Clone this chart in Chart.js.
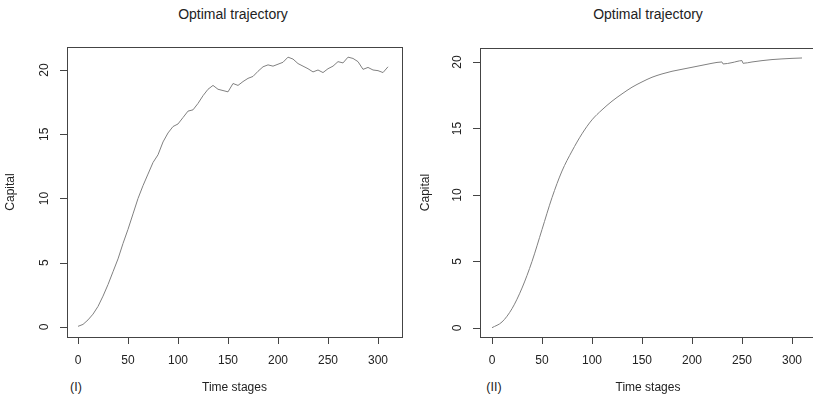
<!DOCTYPE html>
<html>
<head>
<meta charset="utf-8">
<script src="https://cdn.jsdelivr.net/npm/chart.js@4/dist/chart.umd.min.js"></script>
<style>
  html, body { margin: 0; padding: 0; background: #fff; overflow: hidden; width: 813px; height: 399px; }
  body { position: relative; font-family: "Liberation Sans", Arial, sans-serif; color: #222; }
  canvas { position: absolute; top: 0; }
  .titulo { position: absolute; top: 6px; font-size: 14px; color: #222; transform: translateX(-50%); white-space: nowrap; }
  .painel { position: absolute; top: 380px; font-size: 12.5px; color: #222; transform: translateX(-50%); }
</style>
</head>
<body>
<div class="titulo" style="left:233px">Optimal trajectory</div>
<div class="titulo" style="left:648px">Optimal trajectory</div>
<div class="painel" style="left:76px">(I)</div>
<div class="painel" style="left:494px">(II)</div>
<canvas id="graficoI" width="406" height="399" style="left:0"></canvas>
<canvas id="graficoII" width="420" height="399" style="left:406px"></canvas>
<script>
// ============================================================
//  DADOS
// ============================================================

const xTicks = [0, 50, 100, 150, 200, 250, 300];
const yTicks = [0, 5, 10, 15, 20];

// painel (I) - trajetória com ruído
const estagiosI = [0, 5, 10, 15, 20, 25, 30, 35, 40, 45, 50, 55, 60, 65, 70, 75, 80, 85, 90, 95,
    100, 105, 110, 115, 120, 125, 130, 135, 140, 145, 150, 155, 160, 165, 170, 175, 180, 185, 190, 195,
    200, 205, 210, 215, 220, 225, 230, 235, 240, 245, 250, 255, 260, 265, 270, 275, 280, 285, 290, 295,
    300, 305, 310];
const capitalI = [0.05, 0.2, 0.55, 1.0, 1.6, 2.4, 3.3, 4.3, 5.3, 6.5, 7.6, 8.8, 10.0, 11.0, 11.9, 12.8, 13.4, 14.4, 15.1, 15.6,
    15.8, 16.3, 16.8, 16.9, 17.4, 18.0, 18.5, 18.8, 18.5, 18.4, 18.3, 18.95, 18.8, 19.1, 19.35, 19.5, 19.9, 20.25, 20.4, 20.3,
    20.45, 20.6, 21.0, 20.85, 20.5, 20.3, 20.1, 19.85, 20.0, 19.8, 20.1, 20.3, 20.65, 20.55, 21.0, 20.9, 20.65, 20.05, 20.2, 20.0,
    19.95, 19.8, 20.25];

// painel (II) - trajetória suave
const estagiosII = [0, 10, 20, 30, 40, 50, 60, 70, 80, 90, 100, 110, 120, 130, 140, 150, 160, 170, 180, 190,
    200, 210, 220, 230, 231, 240, 250, 251, 260, 270, 280, 290, 300, 310];
const capitalII = [0.02, 0.45, 1.45, 3.0, 5.0, 7.4, 9.8, 11.8, 13.3, 14.6, 15.65, 16.4, 17.05, 17.6, 18.1, 18.5, 18.85, 19.1, 19.3, 19.45,
    19.6, 19.75, 19.9, 20.0, 19.85, 19.95, 20.1, 19.9, 20.0, 20.1, 20.18, 20.23, 20.27, 20.3];

// ============================================================
//  PLUGIN - moldura e marcas estilo R
// ============================================================

const molduraR = {
    id: 'molduraR',
    afterDraw(chart) {
        const { ctx, chartArea: a, scales: { x, y } } = chart;
        ctx.save();
        ctx.strokeStyle = '#444';
        ctx.lineWidth = 1;
        ctx.strokeRect(Math.round(a.left) + 0.5, Math.round(a.top) + 0.5,
            Math.round(a.right - a.left), Math.round(a.bottom - a.top));
        ctx.beginPath();
        xTicks.forEach(v => {
            const px = Math.round(x.getPixelForValue(v)) + 0.5;
            ctx.moveTo(px, a.bottom);
            ctx.lineTo(px, a.bottom + 7);
        });
        yTicks.forEach(v => {
            const py = Math.round(y.getPixelForValue(v)) + 0.5;
            ctx.moveTo(a.left, py);
            ctx.lineTo(a.left - 7, py);
        });
        ctx.stroke();
        ctx.restore();
    }
};

// ============================================================
//  RENDERIZAR GRÁFICO
// ============================================================

function renderizarGrafico(id, estagios, valores, cfg) {
    const fonte = { family: '"Liberation Sans", Arial, sans-serif', size: 12 };
    return new Chart(document.getElementById(id), {
        type: 'line',
        data: {
            datasets: [{
                data: estagios.map((e, i) => ({ x: e, y: valores[i] })),
                borderColor: '#808080',
                borderWidth: 1,
                pointRadius: 0,
                tension: cfg.tension,
                cubicInterpolationMode: cfg.modo,
                fill: false
            }]
        },
        options: {
            responsive: false,
            animation: false,
            devicePixelRatio: 1,
            layout: { padding: { left: 0, right: cfg.padRight, top: cfg.top, bottom: 0 } },
            plugins: { legend: { display: false }, tooltip: { enabled: false } },
            scales: {
                x: {
                    type: 'linear',
                    min: cfg.xMin,
                    max: cfg.xMax,
                    afterBuildTicks: s => { s.ticks = xTicks.map(v => ({ value: v })); },
                    afterFit: s => { s.height = 399 - cfg.bottom; },
                    grid: { display: false, drawTicks: false },
                    border: { display: false },
                    ticks: { color: '#222', font: fonte, padding: 16, maxRotation: 0, autoSkip: false },
                    title: { display: true, text: 'Time stages', color: '#222', font: fonte, padding: { top: 4, bottom: 4 } }
                },
                y: {
                    type: 'linear',
                    min: cfg.yMin,
                    max: cfg.yMax,
                    afterBuildTicks: s => { s.ticks = yTicks.map(v => ({ value: v })); },
                    afterFit: s => { s.width = cfg.left; },
                    grid: { display: false, drawTicks: false },
                    border: { display: false },
                    ticks: { color: '#222', font: fonte, padding: 16, minRotation: 90, maxRotation: 90, crossAlign: 'center', autoSkip: false },
                    title: { display: true, text: 'Capital', color: '#222', font: fonte, padding: { top: cfg.tituloY, bottom: 0 } }
                }
            }
        },
        plugins: [molduraR]
    });
}

renderizarGrafico('graficoI', estagiosI, capitalI, {
    xMin: -11, xMax: 324, yMin: -0.78, yMax: 21.79,
    left: 67, padRight: 4, top: 47, bottom: 337, tituloY: 3, tension: 0, modo: 'default'
});

renderizarGrafico('graficoII', estagiosII, capitalII, {
    xMin: -12, xMax: 324, yMin: -0.68, yMax: 21.05,
    left: 74, padRight: 10, top: 48, bottom: 337, tituloY: 12, tension: 0.4, modo: 'monotone'
});
</script>
</body>
</html>
